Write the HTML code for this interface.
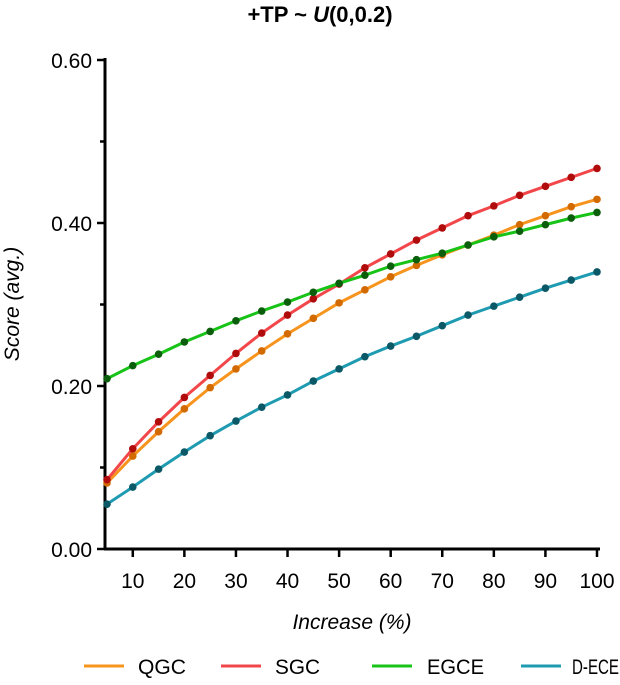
<!DOCTYPE html>
<html><head><meta charset="utf-8"><style>
body{margin:0;background:#fff;font-family:"Liberation Sans",sans-serif}
svg text{font-family:"Liberation Sans",sans-serif}
</style></head><body>
<svg id="chart" width="620" height="680">
<text x="320" y="22" text-anchor="middle" font-size="22" font-weight="bold">+TP ~ <tspan font-style="italic">U</tspan>(0,0.2)</text>
<g id="axes"></g><g id="series"></g><g id="legend"></g>
</svg>
<script>
const xs=[5,10,15,20,25,30,35,40,45,50,55,60,65,70,75,80,85,90,95,100];
const qgc=[0.081,0.114,0.144,0.172,0.198,0.221,0.243,0.264,0.283,0.302,0.318,0.334,0.348,0.361,0.373,0.385,0.398,0.409,0.420,0.429];
const sgc=[0.085,0.123,0.156,0.186,0.213,0.240,0.265,0.287,0.307,0.325,0.345,0.362,0.379,0.394,0.409,0.421,0.434,0.445,0.456,0.467];
const egce=[0.209,0.225,0.239,0.254,0.267,0.280,0.292,0.303,0.315,0.326,0.336,0.347,0.355,0.363,0.373,0.383,0.390,0.398,0.406,0.413];
const dece=[0.055,0.076,0.098,0.119,0.139,0.157,0.174,0.189,0.206,0.221,0.236,0.249,0.261,0.274,0.287,0.298,0.309,0.320,0.330,0.340];
const xTicks=[10,20,30,40,50,60,70,80,90,100];
const yTicks=[0,0.2,0.4,0.6];
const yMinor=[0.1,0.3,0.5];
const names=["QGC","SGC","EGCE","D-ECE"];
const NS="http://www.w3.org/2000/svg";
const X=v=>107+(v-5)*(597-107)/95;
const Y=v=>549-v*815;
function mk(p,t,a){const e=document.createElementNS(NS,t);for(const k in a)e.setAttribute(k,a[k]);p.appendChild(e);return e;}
const ax=document.getElementById('axes');
let e=mk(ax,'line',{x1:105,y1:58,x2:105,y2:550,stroke:'#000','stroke-width':3});


e=mk(ax,'line',{x1:104,y1:549,x2:600,y2:549,stroke:'#000','stroke-width':3});


yTicks.forEach(v=>{mk(ax,'line',{x1:97,y1:Y(v),x2:105,y2:Y(v),stroke:'#000','stroke-width':2.5});
 e=mk(ax,'text',{x:92,y:Y(v)+8,'text-anchor':'end','font-size':21});e.textContent=v.toFixed(2);
 
 });
yMinor.forEach(v=>mk(ax,'line',{x1:100,y1:Y(v),x2:105,y2:Y(v),stroke:'#000','stroke-width':2.5}));
xTicks.forEach(v=>{mk(ax,'line',{x1:X(v),y1:549,x2:X(v),y2:557,stroke:'#000','stroke-width':2.5});
 e=mk(ax,'text',{x:X(v),y:588,'text-anchor':'middle','font-size':21});e.textContent=v;
 
 });
e=mk(ax,'text',{x:352,y:629,'text-anchor':'middle','font-size':21,'font-style':'italic'});e.textContent='Increase (%)';


e=mk(ax,'text',{x:0,y:0,'text-anchor':'middle','font-size':21,'font-style':'italic',transform:'translate(19,304) rotate(-90)'});e.textContent='Score (avg.)';


const series=[[qgc,'#f7941d','#d36a00'],[sgc,'#f2474a','#b00c0c'],[egce,'#18c318','#0b5e0b'],[dece,'#1f9bb1','#0b5867']];
const sg=document.getElementById('series');
series.forEach((s,i)=>{
 const g=mk(sg,'g',{});
 
 
 mk(g,'polyline',{points:s[0].map((v,j)=>X(xs[j])+','+Y(v)).join(' '),fill:'none',stroke:s[1],'stroke-width':3});
 s[0].forEach((v,j)=>{const c=mk(g,'circle',{cx:X(xs[j]),cy:Y(v),r:3.8,fill:s[2]});
  
  });
});
const lg=document.getElementById('legend');
const lx=[84,221,372,521];
const tx=[138,275,427,572];
const tw=[48,45,57,47];
names.forEach((n,i)=>{
 const g=mk(lg,'g',{});
 
 
 mk(g,'line',{x1:lx[i],y1:666,x2:lx[i]+40,y2:666,stroke:series[i][1],'stroke-width':3});
 const t=mk(g,'text',{x:tx[i],y:674,'font-size':21,textLength:tw[i],lengthAdjust:'spacingAndGlyphs'});t.textContent=n;
});
</script>
</body></html>
